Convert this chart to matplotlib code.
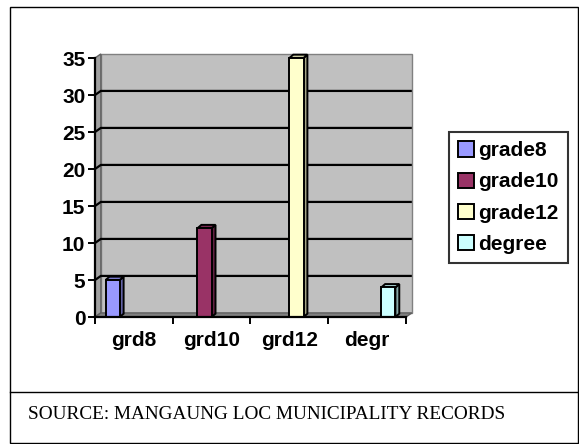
import matplotlib
matplotlib.use("Agg")
import matplotlib.pyplot as plt
from matplotlib.patches import Polygon, Rectangle
from matplotlib.lines import Line2D
import numpy as np

categories = ["grd8", "grd10", "grd12", "degr"]
series_names = ["grade8", "grade10", "grade12", "degree"]
values = {
    "grade8":  [5, 0, 0, 0],
    "grade10": [0, 12, 0, 0],
    "grade12": [0, 0, 35, 0],
    "degree":  [0, 0, 0, 4],
}
yticks = [0, 5, 10, 15, 20, 25, 30, 35]
caption = "SOURCE: MANGAUNG LOC MUNICIPALITY RECORDS"

colors = ["#9999FF", "#993366", "#FFFFCC", "#CCFFFF"]

def shade(c, f):
    c = np.array(matplotlib.colors.to_rgb(c))
    return tuple(c * f)

W, H = 579, 444
fig = plt.figure(figsize=(W / 100, H / 100), dpi=100)
fig.patch.set_facecolor("white")

# outer frame and caption separator
fig.add_artist(Rectangle((10 / W, 1 - 443 / H), 568 / W, 436 / H, transform=fig.transFigure,
                         fill=False, edgecolor="black", lw=1.0))
fig.add_artist(Line2D([10 / W, 578 / W], [1 - 392 / H, 1 - 392 / H], transform=fig.transFigure,
                      color="black", lw=1.0))
fig.text(28 / W, 1 - 414 / H, caption, family="Liberation Serif", fontsize=13.9,
         ha="left", va="center")

ax_l, ax_r, ax_t, ax_b = 95, 406, 58, 317
ax = fig.add_axes([ax_l / W, 1 - ax_b / H, (ax_r - ax_l) / W, (ax_b - ax_t) / H])
ax.set_xlim(-0.5, 3.5)
ax.set_ylim(0, 35)
ax.patch.set_visible(False)

dx, dy = 0.075, 0.55   # wall depth in data units
bdx, bdy = 0.05, 0.45  # bar depth

# back wall
ax.add_patch(Polygon([(-0.5 + dx, dy), (3.5 + dx, dy), (3.5 + dx, 35 + dy), (-0.5 + dx, 35 + dy)],
                     closed=True, facecolor="#C0C0C0", edgecolor="#808080", lw=1.0,
                     clip_on=False, zorder=0))
# left wall
ax.add_patch(Polygon([(-0.5, 0), (-0.5 + dx, dy), (-0.5 + dx, 35 + dy), (-0.5, 35)],
                     closed=True, facecolor="#A0A0A0", edgecolor="#606060", lw=1.0,
                     clip_on=False, zorder=0.5))
# floor
ax.add_patch(Polygon([(-0.5, 0), (3.5, 0), (3.5 + dx, dy), (-0.5 + dx, dy)],
                     closed=True, facecolor="#808080", edgecolor="#606060", lw=1.0,
                     clip_on=False, zorder=0.5))
# gridlines
for y in yticks[1:-1]:
    ax.plot([-0.5, -0.5 + dx, 3.5 + dx], [y, y + dy, y + dy], color="black", lw=1.6,
            clip_on=False, zorder=1, solid_capstyle="butt")

# bars
w = 1 / 5.5
for i, name in enumerate(series_names):
    vals = values[name]
    col = colors[i]
    for j, v in enumerate(vals):
        if v <= 0:
            continue
        x = j + (i - 1.5) * w
        x0, x1 = x - w / 2, x + w / 2
        ax.add_patch(Polygon([(x1, 0), (x1 + bdx, bdy), (x1 + bdx, v + bdy), (x1, v)],
                             closed=True, facecolor=shade(col, 0.65), edgecolor="black",
                             lw=1.4, clip_on=False, zorder=3))
        ax.add_patch(Polygon([(x0, v), (x1, v), (x1 + bdx, v + bdy), (x0 + bdx, v + bdy)],
                             closed=True, facecolor=shade(col, 0.8), edgecolor="black",
                             lw=1.4, clip_on=False, zorder=3))
        ax.add_patch(Rectangle((x0, 0), w, v, facecolor=col, edgecolor="black",
                               lw=1.4, clip_on=False, zorder=4))

for s in ["top", "right"]:
    ax.spines[s].set_visible(False)
for s in ["left", "bottom"]:
    ax.spines[s].set_linewidth(1.6)
    ax.spines[s].set_zorder(5)

fs = 15
ax.set_yticks(yticks)
ax.set_yticklabels([str(t) for t in yticks], fontsize=fs, fontweight="bold",
                   family="Liberation Sans")
ax.tick_params(axis="y", direction="out", length=5, width=1.4, pad=2)

ax.set_xticks([-0.5, 0.5, 1.5, 2.5, 3.5])
ax.set_xticklabels([])
ax.tick_params(axis="x", which="major", direction="out", length=5, width=1.4)
ax.set_xticks(range(4), minor=True)
ax.set_xticklabels(categories, minor=True, fontsize=fs, fontweight="bold",
                   family="Liberation Sans")
ax.tick_params(axis="x", which="minor", length=0, pad=10)

handles = [Rectangle((0, 0), 1, 1, facecolor=c, edgecolor="black", lw=1.4) for c in colors]
leg = fig.legend(handles, series_names, loc="upper left",
                 bbox_to_anchor=(449 / W, 1 - 132 / H),
                 prop={"family": "Liberation Sans", "weight": "bold", "size": 15},
                 frameon=True, fancybox=False, edgecolor="black", borderpad=0.45,
                 handlelength=0.75, handleheight=0.75, handletextpad=0.2,
                 labelspacing=0.58, borderaxespad=0)
leg.get_frame().set_linewidth(1.5)

fig.savefig("out.png", dpi=100)
